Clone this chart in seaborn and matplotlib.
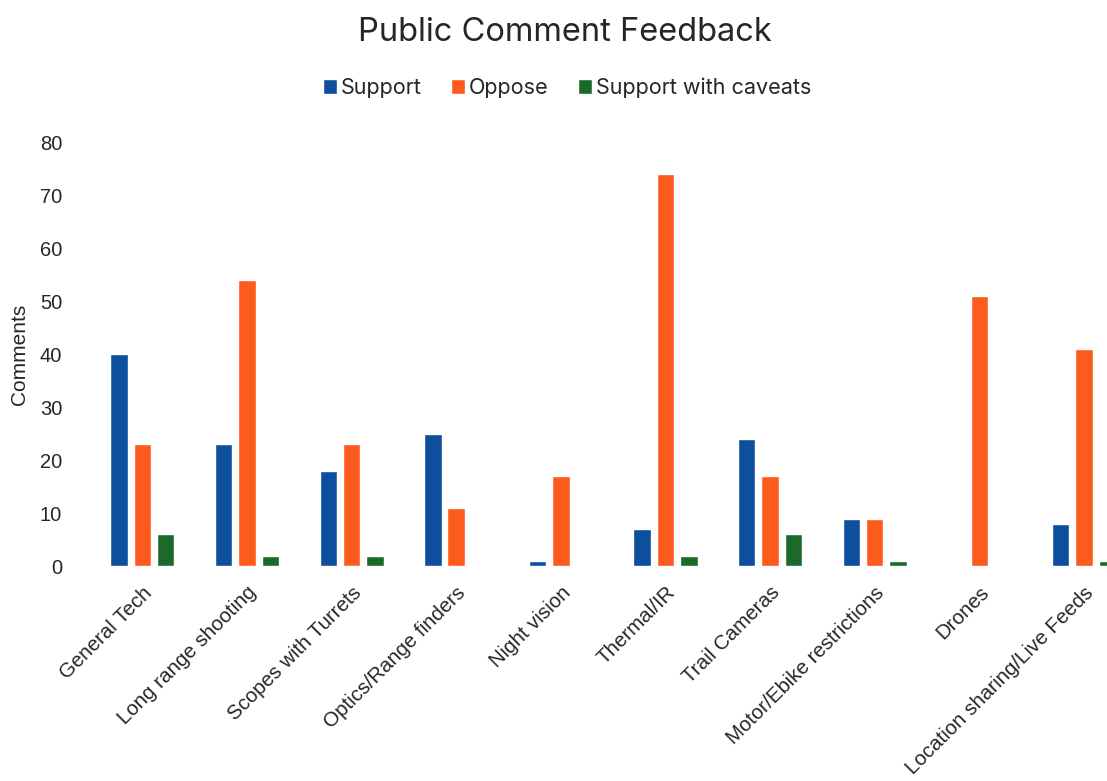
import pandas as pd
import numpy as np
import matplotlib
matplotlib.use('Agg')
import matplotlib.pyplot as plt
import seaborn as sns

categories = ['General Tech', 'Long range shooting', 'Scopes with Turrets', 'Optics/Range finders',
              'Night vision', 'Thermal/IR', 'Trail Cameras', 'Motor/Ebike restrictions',
              'Drones', 'Location sharing/Live Feeds']
support = [40, 23, 18, 25, 1, 7, 24, 9, 0, 8]
oppose = [23, 54, 23, 11, 17, 74, 17, 9, 51, 41]
caveats = [6, 2, 2, 0, 0, 2, 6, 1, 0, 1]
series_names = ['Support', 'Oppose', 'Support with caveats']
colors = ['#0d4e9d', '#fd5a1e', '#1c6a2a']

df = pd.DataFrame({'Category': categories * 3,
                   'Series': np.repeat(series_names, len(categories)),
                   'Comments': support + oppose + caveats})

sns.set_style('white')
plt.rcParams['font.family'] = ['Liberation Sans', 'DejaVu Sans']

fig = plt.figure(figsize=(11.07, 7.81), dpi=100)
ax = fig.add_axes([0.0813, 0.275, 0.9187, 0.543])
sns.barplot(data=df, x='Category', y='Comments', hue='Series', palette=colors,
            width=0.67, gap=0.255, ax=ax, saturation=1)

ax.set_ylim(0, 80)
ax.set_xlim(-0.5, 9.22)
ax.set_yticks(range(0, 81, 10))
ax.tick_params(axis='y', labelsize=14.5, length=0, pad=20)
ax.tick_params(axis='x', labelsize=14.8, length=0, pad=12)
plt.setp(ax.get_xticklabels(), rotation=45, ha='right', rotation_mode='anchor')
ax.set_xlabel('')
ax.set_ylabel('Comments', fontsize=15, labelpad=8)
sns.despine(left=True, bottom=True)

ax.legend(loc='center', bbox_to_anchor=(0.469, 1.128), ncol=3, frameon=False,
          prop={'family': ['Inter', 'DejaVu Sans'], 'size': 15.5},
          handlelength=0.65, handleheight=0.65, handletextpad=0.2,
          columnspacing=1.35)
fig.suptitle('Public Comment Feedback', fontsize=23.5, y=0.978, x=0.51,
             family=['Inter', 'DejaVu Sans'])

fig.savefig('out.png', dpi=100)
